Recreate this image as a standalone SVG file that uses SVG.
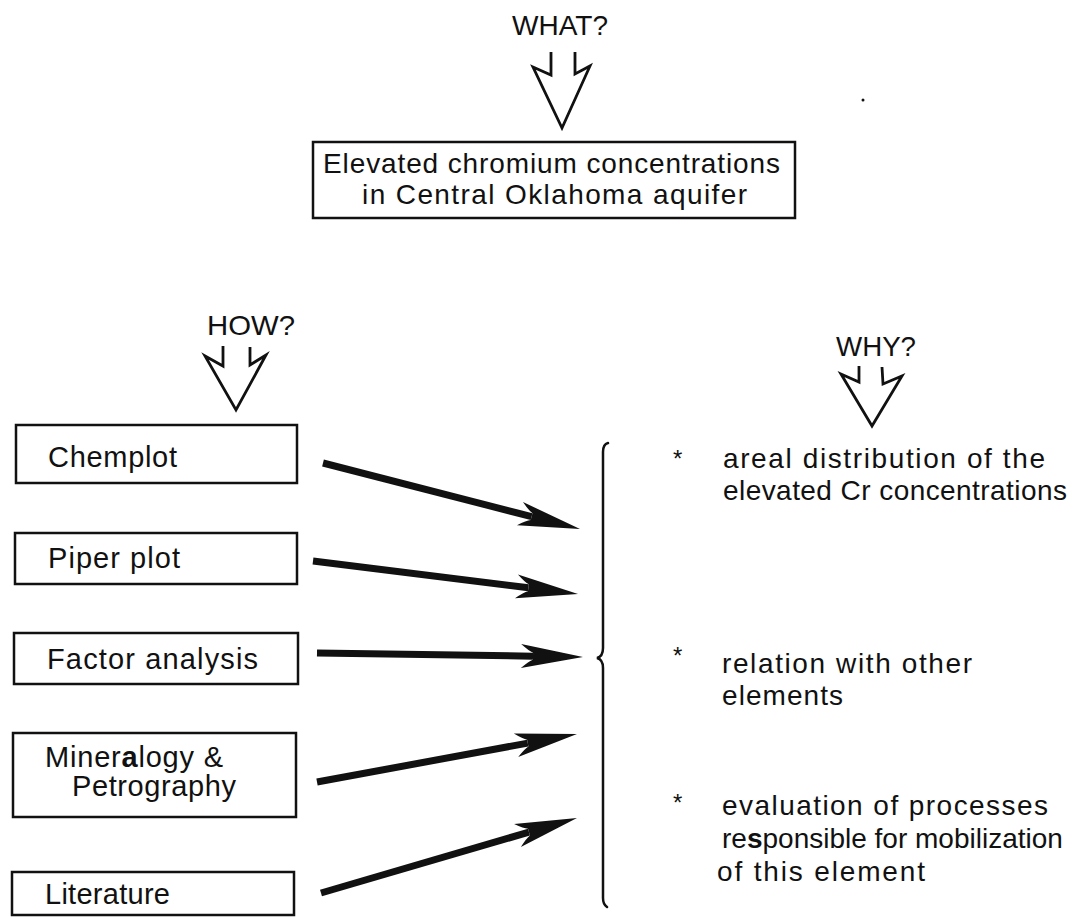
<svg xmlns="http://www.w3.org/2000/svg" width="1073" height="918" viewBox="0 0 1073 918">
<style>
.t{font-family:"Liberation Sans",Arial,Helvetica,sans-serif;fill:#111;}
.lbl{font-size:29px;}
.rt{font-size:28px;}
.hd{font-size:28px;}
.box{fill:#fff;stroke:#111;stroke-width:2.5;}
.open{fill:none;stroke:#111;stroke-width:2.8;stroke-linejoin:miter;stroke-linecap:butt;}
.shaft{fill:none;stroke:#111;stroke-width:7;stroke-linecap:butt;}
.brace{fill:none;stroke:#111;stroke-width:2.5;stroke-linecap:round;}
.star{font-size:24px;}
</style>
<defs>
<marker id="barb" markerUnits="userSpaceOnUse" viewBox="-64 -14 66 28" markerWidth="66" markerHeight="28" refX="-50" refY="0" orient="auto">
<path d="M0,0 L-62,-12 Q-54,-5 -50,-3.5 L-50,3.5 Q-54,5 -62,12 Z" fill="#111"/>
</marker>
</defs>
<rect width="1073" height="918" fill="#fff"/>

<g id="what">
<text class="t hd" x="512" y="35" textLength="96" lengthAdjust="spacingAndGlyphs">WHAT?</text>
<polyline class="open" points="551,52 551,75 533,67 562,128 590,66 575,74 575,52"/>
</g>

<g id="title">
<rect class="box" x="313" y="142" width="482" height="76"/>
<text class="t" font-size="28" x="323" y="173" textLength="457" lengthAdjust="spacing">Elevated chromium concentrations</text>
<text class="t" font-size="28" x="362" y="204" textLength="385" lengthAdjust="spacing">in Central Oklahoma aquifer</text>
</g>

<g id="how">
<text class="t hd" x="207" y="335" textLength="88" lengthAdjust="spacingAndGlyphs">HOW?</text>
<polyline class="open" points="223,346 223,366 205,356 236,410 266,355 250,365 250,347"/>
</g>

<g id="why">
<text class="t hd" x="836" y="356" textLength="80" lengthAdjust="spacingAndGlyphs">WHY?</text>
<polyline class="open" points="859,366 859,382 841,374 872,426 902,376 883,384 882,367"/>
</g>

<g id="chemplot">
<rect class="box" x="16" y="425" width="281" height="58"/>
<text class="t lbl" x="48" y="467" textLength="129" lengthAdjust="spacing">Chemplot</text>
</g>
<g id="piper">
<rect class="box" x="15" y="533" width="282" height="51"/>
<text class="t lbl" x="48" y="568" textLength="132" lengthAdjust="spacing">Piper plot</text>
</g>
<g id="factor">
<rect class="box" x="14" y="633" width="284" height="51"/>
<text class="t lbl" x="47" y="669" textLength="211" lengthAdjust="spacing">Factor analysis</text>
</g>
<g id="mineralogy">
<rect class="box" x="13" y="733" width="283" height="84"/>
<text class="t lbl" x="45" y="767" letter-spacing="0.8">Miner<tspan font-weight="bold">a</tspan>logy &amp;</text>
<text class="t lbl" x="72" y="796" textLength="164" lengthAdjust="spacing">Petrography</text>
</g>
<g id="literature">
<rect class="box" x="12" y="872" width="282" height="43"/>
<text class="t lbl" x="45" y="904" textLength="125" lengthAdjust="spacing">Literature</text>
</g>

<g id="connectors">
<path class="shaft" d="M323,463 L531.6,516.6" marker-end="url(#barb)"/>
<path class="shaft" d="M313,561 L528.4,587.8" marker-end="url(#barb)"/>
<path class="shaft" d="M317,653 L533,656.2" marker-end="url(#barb)"/>
<path class="shaft" d="M317,782 L527.8,743.1" marker-end="url(#barb)"/>
<path class="shaft" d="M321,893 L529,832.1" marker-end="url(#barb)"/>
</g>

<g id="brace">
<path class="brace" d="M608,443 C604,444 603,447 603,452 L603,648 C603,654 601,657 597,658 C601,659 603,662 603,668 L603,898 C603,902 604,905 607,907"/>
</g>

<g id="why-items">
<text class="t star" x="673" y="467">*</text>
<text class="t rt" x="723" y="468" textLength="322" lengthAdjust="spacing">areal distribution of the</text>
<text class="t rt" x="723" y="500" textLength="344" lengthAdjust="spacing">elevated Cr concentrations</text>
<text class="t star" x="673" y="664">*</text>
<text class="t rt" x="722" y="673" textLength="250" lengthAdjust="spacing">relation with other</text>
<text class="t rt" x="722" y="705" textLength="121" lengthAdjust="spacing">elements</text>
<text class="t star" x="673" y="811">*</text>
<text class="t rt" x="722" y="815" textLength="326" lengthAdjust="spacing">evaluation of processes</text>
<text class="t rt" x="722" y="848">re<tspan font-weight="bold">s</tspan>ponsible for mobilization</text>
<text class="t rt" x="717" y="881" textLength="208" lengthAdjust="spacing">of this element</text>
</g>

<circle cx="863" cy="100" r="1.5" fill="#111"/>
</svg>
